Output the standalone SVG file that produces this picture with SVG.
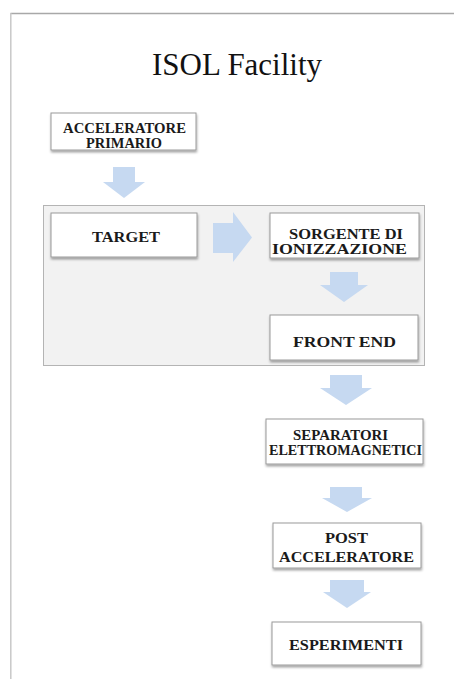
<svg xmlns="http://www.w3.org/2000/svg" width="454" height="679" viewBox="0 0 454 679">
<defs>
<filter id="sh" x="-10%" y="-10%" width="125%" height="140%">
<feDropShadow dx="0.5" dy="2" stdDeviation="1" flood-color="#000" flood-opacity="0.35"/>
</filter>
<style>
.box{fill:#fff;stroke:#9a9a9a;stroke-width:1;filter:url(#sh)}
.t{font-family:"Liberation Serif","DejaVu Serif","Times New Roman",serif;font-weight:bold;font-size:15px;fill:#1a1a1a;text-anchor:middle}
.ti{font-family:"Liberation Serif","DejaVu Serif","Times New Roman",serif;font-size:32px;fill:#111;text-anchor:middle}
.arr{fill:#c6d9f1}
</style>
</defs>
<rect width="454" height="679" fill="#fff"/>
<line x1="10.5" y1="13.5" x2="454" y2="13.5" stroke="#a8a8a8" stroke-width="1.5"/>
<line x1="10.8" y1="13" x2="10.8" y2="679" stroke="#c8c8c8" stroke-width="1.5"/>
<text class="ti" x="237" y="75" textLength="170" lengthAdjust="spacingAndGlyphs">ISOL Facility</text>
<g id="group">
<rect x="43.5" y="205.5" width="381" height="160" fill="#f2f2f2" stroke="#b4b4b4" stroke-width="1"/>
</g>
<g id="connectors">
<path class="arr" d="M113,167 H135 V182 H145 L124,198 L103,182 H113 Z"/>
<path class="arr" d="M213,223 H233 V212 L252,237.5 L233,262 V253 H213 Z"/>
<path class="arr" d="M330,272 H358 V285 H368 L344,302 L320,285 H330 Z"/>
<path class="arr" d="M330,375 H362 V388 H372 L346,405 L320,388 H330 Z"/>
<path class="arr" d="M330,487 H362 V498 H372 L347,512 L322,498 H330 Z"/>
<path class="arr" d="M330,580 H364 V592 H371 L347,608 L323,592 H330 Z"/>
</g>
<g id="acceleratore">
<rect class="box" x="51" y="113" width="145" height="37"/>
<text class="t" x="124.5" y="133" textLength="123" lengthAdjust="spacingAndGlyphs">ACCELERATORE</text>
<text class="t" x="124" y="148" textLength="76" lengthAdjust="spacingAndGlyphs">PRIMARIO</text>
</g>
<g id="target">
<rect class="box" x="51" y="213" width="146" height="44"/>
<text class="t" x="126" y="242" textLength="68" lengthAdjust="spacingAndGlyphs">TARGET</text>
</g>
<g id="sorgente">
<rect class="box" x="270" y="213" width="149" height="45"/>
<text class="t" x="346" y="238.5" textLength="114" lengthAdjust="spacingAndGlyphs">SORGENTE DI</text>
<text class="t" x="339.5" y="253.5" textLength="135" lengthAdjust="spacingAndGlyphs">IONIZZAZIONE</text>
</g>
<g id="frontend">
<rect class="box" x="270" y="315" width="148" height="45"/>
<text class="t" x="344.5" y="347" textLength="103" lengthAdjust="spacingAndGlyphs">FRONT END</text>
</g>
<g id="separatori">
<rect class="box" x="266" y="419" width="157" height="45"/>
<text class="t" x="340.5" y="440" textLength="95" lengthAdjust="spacingAndGlyphs">SEPARATORI</text>
<text class="t" x="345.5" y="455" textLength="153" lengthAdjust="spacingAndGlyphs">ELETTROMAGNETICI</text>
</g>
<g id="post">
<rect class="box" x="273" y="523" width="148" height="45"/>
<text class="t" x="346.5" y="543" textLength="43" lengthAdjust="spacingAndGlyphs">POST</text>
<text class="t" x="346.5" y="562" textLength="135" lengthAdjust="spacingAndGlyphs">ACCELERATORE</text>
</g>
<g id="esperimenti">
<rect class="box" x="272" y="622" width="149" height="43"/>
<text class="t" x="346" y="650" textLength="114" lengthAdjust="spacingAndGlyphs">ESPERIMENTI</text>
</g>
</svg>
